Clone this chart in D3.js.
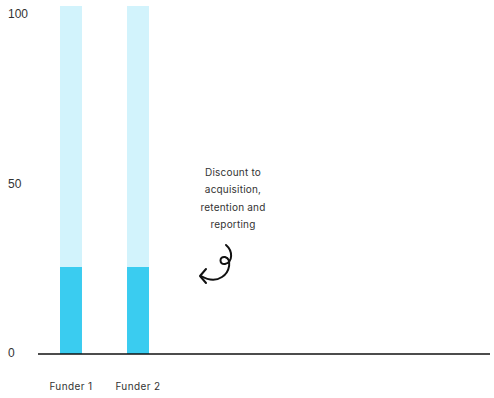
<!DOCTYPE html>
<html>
<head>
<meta charset="utf-8">
<script src="https://cdn.jsdelivr.net/npm/d3@7"></script>
<style>
  html, body { margin: 0; padding: 0; background: #fff; }
  svg { display: block; }
</style>
</head>
<body>
<svg id="chart" width="494" height="398"></svg>
<script>
// Funding data: total commitment and the share discounted
const categories = ["Funder 1", "Funder 2"];
const totalValues = [100, 100];
const discountValues = [25, 25];
const tickValues = [0, 50, 100];
const noteLines = ["Discount to", "acquisition,", "retention and", "reporting"];

const svg = d3.select("#chart");

const x = d3.scaleBand()
  .domain(categories)
  .range([60, 149])
  .paddingInner(0.672)
  .paddingOuter(0);

const y = d3.scaleLinear().domain([0, 100]).range([354, 6]);
// tick labels sit on a slightly tighter band than the bars
const yLabel = d3.scaleLinear().domain([0, 100]).range([353, 14]);

// full-height bars
svg.selectAll("rect.total")
  .data(categories)
  .join("rect")
  .attr("class", "total")
  .attr("x", d => x(d))
  .attr("width", x.bandwidth())
  .attr("y", (d, i) => y(totalValues[i]))
  .attr("height", (d, i) => y(0) - y(totalValues[i]))
  .attr("fill", "#d2f3fc");

// discount portion
svg.selectAll("rect.discount")
  .data(categories)
  .join("rect")
  .attr("class", "discount")
  .attr("x", d => x(d))
  .attr("width", x.bandwidth())
  .attr("y", (d, i) => y(discountValues[i]))
  .attr("height", (d, i) => y(0) - y(discountValues[i]))
  .attr("fill", "#3accf0");

// baseline
svg.append("line")
  .attr("x1", 38).attr("x2", 490)
  .attr("y1", y(0)).attr("y2", y(0))
  .attr("stroke", "#111").attr("stroke-width", 1.5);

// y tick labels
svg.selectAll("text.ytick")
  .data(tickValues)
  .join("text")
  .attr("class", "ytick")
  .attr("x", 8)
  .attr("y", d => yLabel(d))
  .attr("dy", "0.35em")
  .attr("font-family", "Liberation Sans, Arial, sans-serif")
  .attr("font-size", 12)
  .attr("fill", "#333")
  .text(d => d);

// category labels
svg.selectAll("text.xtick")
  .data(categories)
  .join("text")
  .attr("class", "xtick")
  .attr("x", d => x(d) + x.bandwidth() / 2)
  .attr("y", 386)
  .attr("dy", "0.35em")
  .attr("text-anchor", "middle")
  .attr("font-family", "Inter, sans-serif")
  .attr("font-size", 10)
  .attr("letter-spacing", 0.4)
  .attr("fill", "#333")
  .text(d => d);

// annotation
const note = svg.append("text")
  .attr("text-anchor", "middle")
  .attr("font-family", "Inter, sans-serif")
  .attr("font-size", 10)
  .attr("letter-spacing", 0.2)
  .attr("fill", "#333");
noteLines.forEach((t, i) => {
  note.append("tspan")
    .attr("x", 233)
    .attr("y", 172 + i * 17.6)
    .attr("dy", "0.35em")
    .text(t);
});

// curly arrow pointing at the discount bars
svg.append("path")
  .attr("d", "M226,245 C233,251 233,262 225,264 C219,265 219,256 225,257 C232,259 230,272 222,277 C216,281 208,280 201,276")
  .attr("fill", "none")
  .attr("stroke", "#111")
  .attr("stroke-width", 2)
  .attr("stroke-linecap", "round");
svg.append("path")
  .attr("d", "M206,269 L200,276 L206,283")
  .attr("fill", "none")
  .attr("stroke", "#111")
  .attr("stroke-width", 2)
  .attr("stroke-linecap", "round")
  .attr("stroke-linejoin", "round");
</script>
</body>
</html>
